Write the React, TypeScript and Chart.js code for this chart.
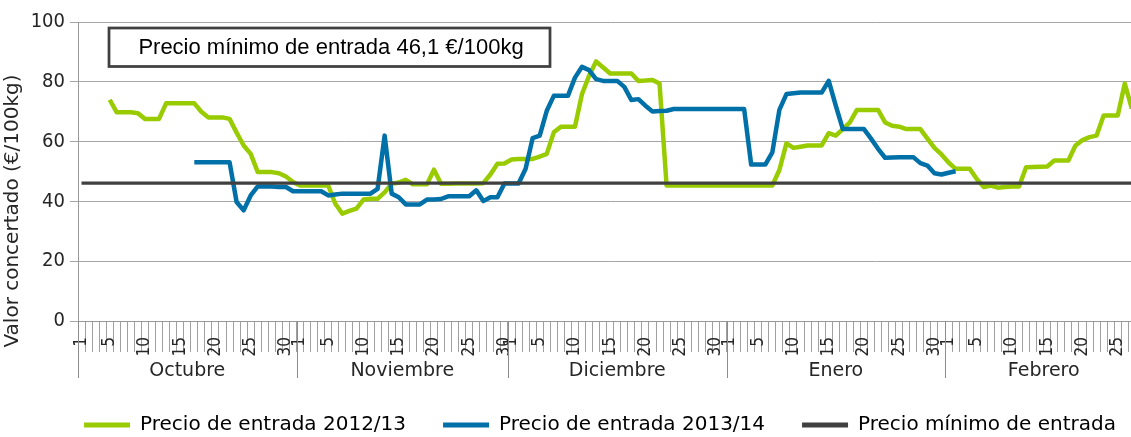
import React, { useEffect, useRef } from 'react';
import { Chart, registerables } from 'chart.js';

Chart.register(...registerables);

// ---- categories / tick labels ----
const months = ['Octubre', 'Noviembre', 'Diciembre', 'Enero', 'Febrero'];
const monthDays = [31, 30, 31, 31, 28];
const shownDays = ['1', '5', '10', '15', '20', '25', '30'];
const dayLabels: string[] = [];
monthDays.forEach((n) => {
  for (let d = 1; d <= n; d++) dayLabels.push(String(d));
});
const yTicks = [0, 20, 40, 60, 80, 100];

// ---- series: Precio de entrada 2012/13 ----
const entrada1213Oct = [null, null, null, null, 74, 69.8, 69.8, 69.8, 69.5, 67.6, 67.6, 67.6, 72.8, 72.8, 72.8, 72.8, 72.8, 70, 68.1, 68.1, 68.1, 67.6, 63, 58.7, 55.9, 49.8, 49.8, 49.8, 49.4, 48.3, 46.5];
const entrada1213Nov = [45.3, 45.3, 45.3, 45.3, 45.3, 39.2, 35.9, 36.8, 37.6, 40.6, 40.9, 40.9, 43, 45.9, 46.3, 47.2, 45.7, 45.7, 45.7, 50.6, 45.9, 45.9, 46, 46, 46, 46, 46.1, 49, 52.6, 52.7];
const entrada1213Dic = [54, 54.2, 54.2, 54.2, 55, 55.9, 63.1, 65, 65, 65, 75.9, 82, 86.8, 84.8, 82.8, 82.8, 82.8, 82.8, 80.3, 80.4, 80.6, 79.4, 45.3, 45.3, 45.3, 45.3, 45.3, 45.3, 45.3, 45.3, 45.3];
const entrada1213Ene = [45.3, 45.3, 45.3, 45.3, 45.3, 45.3, 45.3, 50.5, 59.4, 57.9, 58.3, 58.7, 58.7, 58.7, 62.8, 62, 64.2, 66.4, 70.6, 70.6, 70.6, 70.6, 66.4, 65.3, 65, 64.2, 64.2, 64.2, 61, 57.9, 55.7];
const entrada1213Feb = [53, 50.9, 50.9, 50.9, 47.5, 44.8, 45.3, 44.6, 44.8, 45, 45, 51.4, 51.5, 51.6, 51.7, 53.7, 53.7, 53.7, 58.7, 60.5, 61.5, 62, 68.7, 68.7, 68.7, 79.4, 71, null];

// ---- series: Precio de entrada 2013/14 ----
const entrada1314Oct = [null, null, null, null, null, null, null, null, null, null, null, null, null, null, null, null, 53.1, 53.1, 53.1, 53.1, 53.1, 53.1, 39.8, 37, 42, 45, 45, 45, 44.8, 44.8, 43.4];
const entrada1314Nov = [43.4, 43.4, 43.4, 43.4, 42, 42.3, 42.6, 42.6, 42.6, 42.6, 42.6, 44.2, 62, 42.6, 41.4, 39, 39, 39, 40.6, 40.6, 40.8, 41.7, 41.7, 41.7, 41.7, 43.7, 40.1, 41.4, 41.4, 46];
const entrada1314Dic = [46, 46, 50.9, 61.2, 62, 70.3, 75.3, 75.3, 75.3, 81.4, 85, 83.9, 80.9, 80.3, 80.3, 80.3, 78.3, 73.9, 74.2, 72, 70.1, 70.2, 70.3, 70.9, 70.9, 70.9, 70.9, 70.9, 70.9, 70.9, 70.9];
const entrada1314Ene = [70.9, 70.9, 70.9, 52.3, 52.3, 52.3, 56.4, 70.6, 75.9, 76.2, 76.4, 76.4, 76.4, 76.4, 80.3, 72, 64.2, 64.2, 64.2, 64.2, 61, 57.6, 54.6, 54.7, 54.8, 54.8, 54.8, 52.8, 52, 49.4, 49];
const entrada1314Feb = [49.6, 50.1, null, null, null, null, null, null, null, null, null, null, null, null, null, null, null, null, null, null, null, null, null, null, null, null, null, null];

// ---- reference value ----
const precioMinimo = 46.1;

const serie1213 = [...entrada1213Oct, ...entrada1213Nov, ...entrada1213Dic, ...entrada1213Ene, ...entrada1213Feb];
const serie1314 = [...entrada1314Oct, ...entrada1314Nov, ...entrada1314Dic, ...entrada1314Ene, ...entrada1314Feb];
const serieMinimo = dayLabels.map(() => precioMinimo);

const seriesNames = ['Precio de entrada 2012/13', 'Precio de entrada 2013/14', 'Precio mínimo de entrada'];
const boxText = 'Precio mínimo de entrada 46,1 €/100kg';
const yTitle = 'Valor concertado (€/100kg)';

// ---- layout / style ----
const W = 1200;
const H = 445;
const PLOT_RIGHT = 1142.4;
const GREEN = '#99CC00';
const BLUE = '#0070A8';
const DARK = '#404040';
const TEXT = '#262626';
const SANS = '"DejaVu Sans", sans-serif';
const COND = '"DejaVu Sans Condensed", "DejaVu Sans", sans-serif';

const monthGroupsPlugin = {
  id: 'monthGroups',
  afterDraw(chart: any) {
    const x = chart.scales.x;
    const ctx = chart.ctx;
    const half = (x.getPixelForValue(1) - x.getPixelForValue(0)) / 2;
    let start = 0;
    ctx.save();
    ctx.strokeStyle = '#8c8c8c';
    ctx.lineWidth = 1;
    ctx.fillStyle = TEXT;
    ctx.font = '19px ' + SANS;
    ctx.textAlign = 'center';
    ctx.textBaseline = 'middle';
    months.forEach((m, k) => {
      const n = monthDays[k];
      const left = x.getPixelForValue(start) - half;
      const right = x.getPixelForValue(start + n - 1) + half;
      const bx = Math.round(left) + 0.5;
      ctx.beginPath();
      ctx.moveTo(bx, x.top);
      ctx.lineTo(bx, x.top + 57);
      ctx.stroke();
      ctx.fillText(m, (left + right) / 2, x.top + 50);
      start += n;
    });
    ctx.restore();
  },
};

const yTitlePlugin = {
  id: 'yTitle',
  afterDraw(chart: any) {
    const ctx = chart.ctx;
    ctx.save();
    ctx.translate(13, 211);
    ctx.rotate(-Math.PI / 2);
    ctx.fillStyle = TEXT;
    ctx.font = '20px ' + SANS;
    ctx.textAlign = 'center';
    ctx.textBaseline = 'middle';
    ctx.fillText(yTitle, 0, 0);
    ctx.restore();
  },
};

const boxPlugin = {
  id: 'minBox',
  afterDraw(chart: any) {
    const ctx = chart.ctx;
    ctx.save();
    ctx.fillStyle = '#ffffff';
    ctx.fillRect(109, 28, 441, 38.5);
    ctx.strokeStyle = DARK;
    ctx.lineWidth = 2.75;
    ctx.strokeRect(109, 28, 441, 38.5);
    ctx.fillStyle = '#000000';
    ctx.font = '22px "Liberation Sans", Arial, sans-serif';
    ctx.textAlign = 'center';
    ctx.textBaseline = 'middle';
    ctx.fillText(boxText, 331, 48);
    ctx.restore();
  },
};

export default function App() {
  const ref = useRef<HTMLCanvasElement>(null);
  useEffect(() => {
    document.body.style.margin = '0';
    const chart = new Chart(ref.current as HTMLCanvasElement, {
      type: 'line',
      data: {
        labels: dayLabels,
        datasets: [
          { label: seriesNames[0], data: serie1213 as any, borderColor: GREEN, backgroundColor: GREEN, borderWidth: 4.5, pointRadius: 0, tension: 0, order: 3, yAxisID: 'y', borderJoinStyle: 'round' },
          { label: seriesNames[1], data: serie1314 as any, borderColor: BLUE, backgroundColor: BLUE, borderWidth: 4.5, pointRadius: 0, tension: 0, order: 2, yAxisID: 'y', borderJoinStyle: 'round' },
          { label: seriesNames[2], data: serieMinimo, borderColor: DARK, backgroundColor: DARK, borderWidth: 3.25, pointRadius: 0, tension: 0, order: 1, yAxisID: 'y' },
        ],
      },
      options: {
        animation: false,
        responsive: false,
        devicePixelRatio: 1,
        layout: { padding: { top: 22, left: 0, right: 0, bottom: 0 } },
        plugins: {
          tooltip: { enabled: false },
          legend: {
            position: 'bottom',
            align: 'center',
            labels: {
              boxWidth: 46,
              boxHeight: 5,
              padding: 37,
              color: TEXT,
              font: { family: SANS, size: 20 },
              generateLabels: (c: any) =>
                c.data.datasets.map((ds: any, i: number) => ({
                  text: ds.label,
                  fillStyle: ds.borderColor,
                  strokeStyle: ds.borderColor,
                  lineWidth: 0,
                  hidden: false,
                  datasetIndex: i,
                })),
            },
          },
        },
        scales: {
          x: {
            type: 'category',
            offset: true,
            grid: { offset: true, drawOnChartArea: false, drawTicks: true, tickLength: 31, color: '#a0a0a0', lineWidth: 1 },
            border: { display: true, color: '#999999' },
            ticks: {
              autoSkip: false,
              maxRotation: 90,
              minRotation: 90,
              padding: -15,
              color: TEXT,
              font: { family: COND, size: 17 },
              callback: function (this: any, v: any, i: number) {
                const l = dayLabels[i];
                return shownDays.includes(l) ? l : '';
              },
            },
            afterFit: (s: any) => { s.height = 57; },
          },
          y: {
            min: 0,
            max: 100,
            afterBuildTicks: (s: any) => { s.ticks = yTicks.map((v) => ({ value: v })); },
            grid: { color: '#a6a6a6', drawTicks: true, tickLength: 8, lineWidth: 1 },
            border: { display: true, color: '#999999' },
            ticks: { padding: 5, color: TEXT, font: { family: COND, size: 20 } },
            afterFit: (s: any) => { s.width = 78; },
          },
          yR: {
            position: 'right',
            display: true,
            grid: { display: false, drawTicks: false },
            ticks: { display: false },
            border: { display: false },
            afterFit: (s: any) => { s.width = W - PLOT_RIGHT; },
          },
        },
      } as any,
      plugins: [monthGroupsPlugin, yTitlePlugin, boxPlugin],
    });
    return () => chart.destroy();
  }, []);
  return (
    <div style={{ position: 'fixed', left: 0, top: 0, width: 1131, height: 437, overflow: 'hidden', background: '#ffffff' }}>
      <canvas ref={ref} width={W} height={H} style={{ display: 'block', width: W, height: H }} />
    </div>
  );
}
